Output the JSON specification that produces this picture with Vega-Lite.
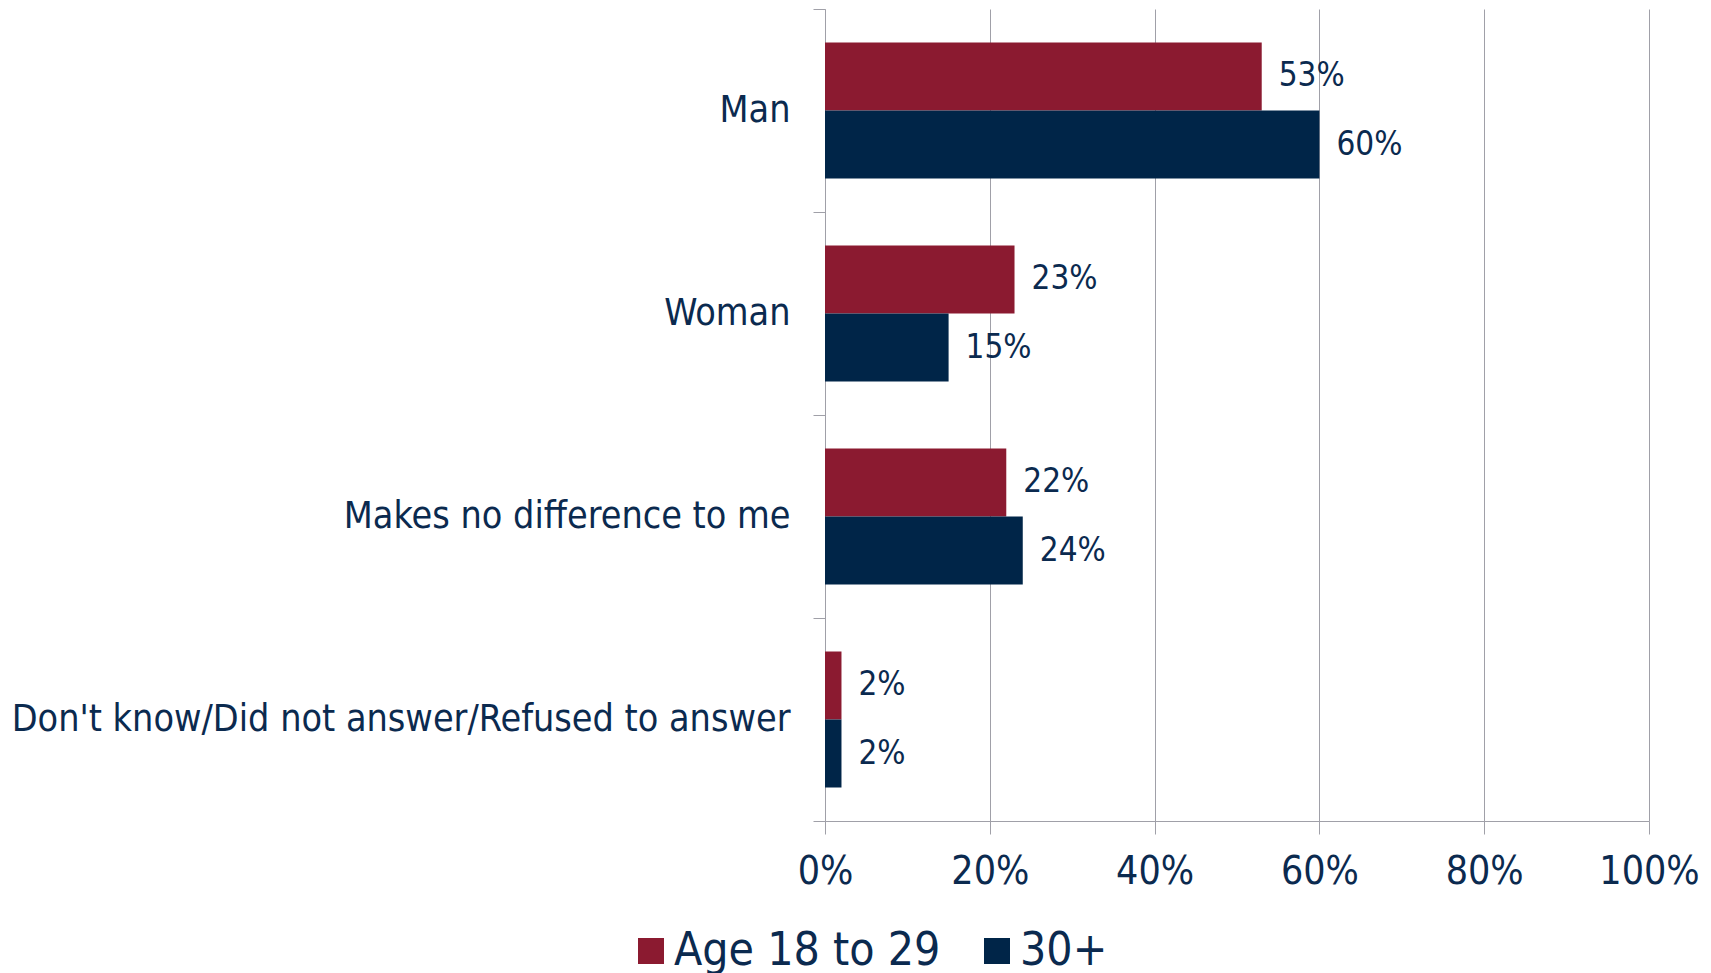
{
  "$schema": "https://vega.github.io/schema/vega-lite/v6.json",
  "width": 824,
  "height": 812,
  "autosize": "none",
  "padding": {"left": 825, "top": 9, "right": 62, "bottom": 152},
  "background": "white",
  "config": {"view": {"stroke": null}},
  "data": {
    "values": [
      {"answer": "Man", "group": "Age 18 to 29", "value": 0.53},
      {"answer": "Man", "group": "30+", "value": 0.60},
      {"answer": "Woman", "group": "Age 18 to 29", "value": 0.23},
      {"answer": "Woman", "group": "30+", "value": 0.15},
      {"answer": "Makes no difference to me", "group": "Age 18 to 29", "value": 0.22},
      {"answer": "Makes no difference to me", "group": "30+", "value": 0.24},
      {"answer": "Don't know/Did not answer/Refused to answer", "group": "Age 18 to 29", "value": 0.02},
      {"answer": "Don't know/Did not answer/Refused to answer", "group": "30+", "value": 0.02}
    ]
  },
  "encoding": {
    "y": {
      "field": "answer",
      "type": "nominal",
      "sort": ["Man", "Woman", "Makes no difference to me", "Don't know/Did not answer/Refused to answer"],
      "scale": {"paddingInner": 0, "paddingOuter": 0},
      "axis": {
        "title": null,
        "domainColor": "#A0A0A8",
        "tickColor": "#A0A0A8",
        "tickSize": 12,
        "tickBand": "extent",
        "labelPadding": 23,
        "labelFont": "DejaVu Sans Condensed",
        "labelFontSize": 37.4,
        "labelColor": "#0B2A4F",
        "labelLimit": 1000,
        "grid": false
      }
    },
    "yOffset": {
      "field": "group",
      "sort": ["Age 18 to 29", "30+"],
      "scale": {"paddingInner": 0, "paddingOuter": 0.4926}
    },
    "x": {
      "field": "value",
      "type": "quantitative",
      "scale": {"domain": [0, 1]},
      "axis": {
        "title": null,
        "values": [0, 0.2, 0.4, 0.6, 0.8, 1],
        "format": ".0%",
        "grid": true,
        "gridColor": "#A0A0A8",
        "domainColor": "#A0A0A8",
        "tickColor": "#A0A0A8",
        "tickSize": 13,
        "labelPadding": 18,
        "labelFont": "DejaVu Sans Condensed",
        "labelFontSize": 39,
        "labelColor": "#0B2A4F",
        "labelFlush": false
      }
    }
  },
  "layer": [
    {
      "mark": {"type": "bar"},
      "encoding": {
        "color": {
          "field": "group",
          "type": "nominal",
          "sort": ["Age 18 to 29", "30+"],
          "scale": {"domain": ["Age 18 to 29", "30+"], "range": ["#8B1A30", "#002548"]},
          "legend": {
            "title": null,
            "orient": "none",
            "direction": "horizontal",
            "legendX": -197,
            "legendY": 919,
            "symbolType": "square",
            "symbolSize": 676,
            "symbolStrokeWidth": 0,
            "symbolOpacity": 1,
            "labelFont": "DejaVu Sans Condensed",
            "labelFontSize": 46,
            "labelColor": "#0B2A4F",
            "labelOffset": 0,
            "columnPadding": 33,
            "labelLimit": 1000
          }
        }
      }
    },
    {
      "mark": {"type": "text", "align": "left", "baseline": "middle", "dx": 17, "font": "DejaVu Sans Condensed", "fontSize": 33, "color": "#0B2A4F"},
      "encoding": {
        "text": {"field": "value", "type": "quantitative", "format": ".0%"}
      }
    }
  ]
}
